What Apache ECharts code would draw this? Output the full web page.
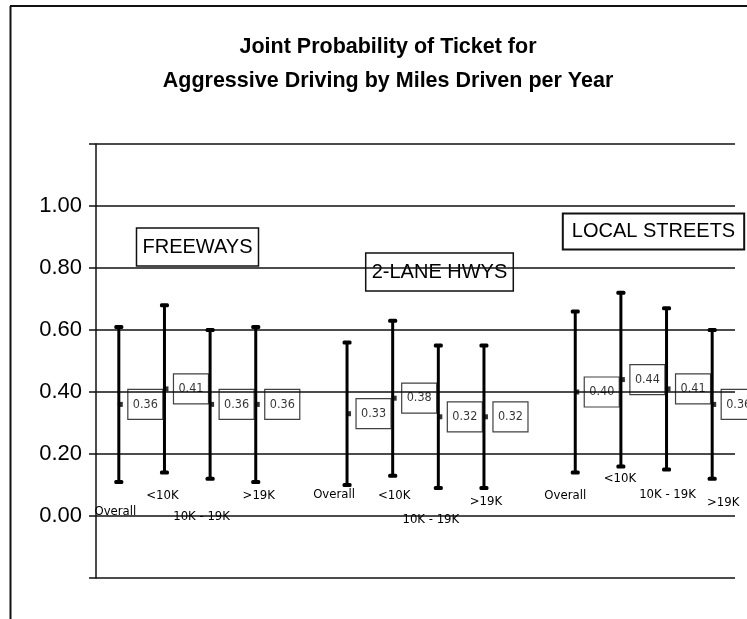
<!DOCTYPE html>
<html>
<head>
<meta charset="utf-8">
<script src="https://cdn.jsdelivr.net/npm/echarts@6/dist/echarts.min.js"></script>
<style>
  html, body { margin: 0; padding: 0; background: #ffffff; }
  #chart { width: 747px; height: 619px; }
</style>
</head>
<body>
<div id="chart"></div>
<script>
// ---- data ----
const groupNames = ['FREEWAYS', '2-LANE HWYS', 'LOCAL STREETS'];
const subCategories = ['Overall', '<10K', '10K - 19K', '>19K'];
const yTickLabels = ['0.00', '0.20', '0.40', '0.60', '0.80', '1.00'];

const freewaysMean = [0.36, 0.41, 0.36, 0.36];
const freewaysLow  = [0.11, 0.14, 0.12, 0.11];
const freewaysHigh = [0.61, 0.68, 0.60, 0.61];

const twoLaneMean = [0.33, 0.38, 0.32, 0.32];
const twoLaneLow  = [0.10, 0.13, 0.09, 0.09];
const twoLaneHigh = [0.56, 0.63, 0.55, 0.55];

const localMean = [0.40, 0.44, 0.41, 0.36];
const localLow  = [0.14, 0.16, 0.15, 0.12];
const localHigh = [0.66, 0.72, 0.67, 0.60];

// ---- styling (label nudges in px, per category label) ----
const labelDx = [-3.5, -2, -8.5, 3, -13, 1.5, -7.5, 2, -10, -1, 1, 11];
const labelDy = [16, 0, 21, 0, -1, 0, 24, 6, 0, -17, -1, 7];

const groupsMean = [freewaysMean, twoLaneMean, localMean];
const groupsLow = [freewaysLow, twoLaneLow, localLow];
const groupsHigh = [freewaysHigh, twoLaneHigh, localHigh];

// category slots: 4 per group with one empty slot between groups
const categories = [];
const catLabel = [];
const catLabelIdx = [];
groupNames.forEach((g, gi) => {
  subCategories.forEach((s, si) => {
    categories.push(g + '|' + s);
    catLabel.push(s);
    catLabelIdx.push(gi * 4 + si);
  });
  if (gi < groupNames.length - 1) {
    categories.push('gap' + gi);
    catLabel.push('');
    catLabelIdx.push(-1);
  }
});

const barData = [];
const meanData = [];
groupNames.forEach((g, gi) => {
  subCategories.forEach((s, si) => {
    const idx = categories.indexOf(g + '|' + s);
    barData.push([idx, groupsLow[gi][si], groupsHigh[gi][si]]);
    meanData.push([idx, groupsMean[gi][si]]);
  });
});

const rich = {};
categories.forEach((c, i) => {
  const li = catLabelIdx[i];
  const dx = li >= 0 ? labelDx[li] : 0;
  const dy = li >= 0 ? labelDy[li] : 0;
  rich['c' + i] = {
    fontFamily: '"DejaVu Sans Condensed", "DejaVu Sans", sans-serif',
    fontSize: 13,
    color: '#000',
    padding: [Math.max(0, 2 * dy), Math.max(0, -2 * dx), Math.max(0, -2 * dy), Math.max(0, 2 * dx)]
  };
});

const chart = echarts.init(document.getElementById('chart'), null, { renderer: 'canvas' });

const boxFont = '20px "Liberation Sans", Arial, sans-serif';

chart.setOption({
  backgroundColor: '#ffffff',
  animation: false,
  title: {
    text: 'Joint Probability of Ticket for\nAggressive Driving by Miles Driven per Year',
    left: 383,
    textAlign: 'center',
    top: 25,
    textStyle: {
      fontFamily: '"Liberation Sans", Arial, sans-serif',
      fontWeight: 'bold',
      fontSize: 21.5,
      lineHeight: 34,
      color: '#000'
    }
  },
  grid: { left: 96, right: 12, top: 144, bottom: 41 },
  xAxis: {
    type: 'category',
    data: categories,
    boundaryGap: true,
    axisLine: { show: false },
    axisTick: { show: false },
    splitLine: { show: false },
    axisLabel: {
      interval: 0,
      inside: true,
      margin: 82,
      verticalAlign: 'middle',
      hideOverlap: false,
      formatter: (v, i) => catLabel[i] ? '{c' + i + '|' + catLabel[i] + '}' : '',
      rich: rich
    }
  },
  yAxis: {
    type: 'value',
    min: -0.2,
    max: 1.2,
    interval: 0.2,
    axisLine: { show: true, lineStyle: { color: '#111', width: 1.5 } },
    axisTick: { show: true, length: 7, lineStyle: { color: '#111', width: 1.5 } },
    splitLine: { show: true, lineStyle: { color: '#111', width: 1.5 } },
    axisLabel: {
      margin: 14,
      fontFamily: '"Liberation Sans", Arial, sans-serif',
      fontSize: 22,
      color: '#000',
      formatter: (v) => {
        const s = v.toFixed(2);
        return yTickLabels.indexOf(s) >= 0 ? s : '';
      }
    }
  },
  series: [
    {
      type: 'custom',
      name: 'range',
      data: barData,
      encode: { x: 0, y: [1, 2] },
      z: 3,
      renderItem: (params, api) => {
        const lo = api.coord([api.value(0), api.value(1)]);
        const hi = api.coord([api.value(0), api.value(2)]);
        const capW = 9, capH = 4;
        return {
          type: 'group',
          children: [
            { type: 'line', shape: { x1: lo[0], y1: lo[1], x2: hi[0], y2: hi[1] },
              style: { stroke: '#000', lineWidth: 3 } },
            { type: 'rect', shape: { x: lo[0] - capW / 2, y: lo[1] - capH / 2, width: capW, height: capH, r: 1.5 },
              style: { fill: '#000' } },
            { type: 'rect', shape: { x: hi[0] - capW / 2, y: hi[1] - capH / 2, width: capW, height: capH, r: 1.5 },
              style: { fill: '#000' } }
          ]
        };
      }
    },
    {
      type: 'scatter',
      name: 'mean',
      data: meanData,
      symbol: 'rect',
      symbolSize: 5,
      symbolOffset: [1.5, 0],
      z: 4,
      itemStyle: { color: '#000' },
      label: {
        show: true,
        position: 'right',
        distance: 5,
        formatter: (p) => p.value[1].toFixed(2),
        fontFamily: '"DejaVu Sans Condensed", "DejaVu Sans", sans-serif',
        fontSize: 12.5,
        lineHeight: 14,
        color: '#000',
        borderColor: '#111',
        borderWidth: 1.2,
        padding: [8, 5, 8, 5]
      }
    }
  ],
  graphic: [
    { type: 'line', shape: { x1: 10.5, y1: 6, x2: 10.5, y2: 619 }, style: { stroke: '#111', lineWidth: 2 } },
    { type: 'line', shape: { x1: 10, y1: 6, x2: 747, y2: 6 }, style: { stroke: '#111', lineWidth: 2 } },
    { type: 'text', x: 197.5, y: 247, style: { text: groupNames[0], font: boxFont, fill: '#000', align: 'center', verticalAlign: 'middle',
        padding: [8, 6, 8, 6], borderColor: '#111', borderWidth: 1.5, lineHeight: 22 } },
    { type: 'text', x: 439.5, y: 272, style: { text: groupNames[1], font: boxFont, fill: '#000', align: 'center', verticalAlign: 'middle',
        padding: [8, 6, 8, 6], borderColor: '#111', borderWidth: 1.5, lineHeight: 22 } },
    { type: 'text', x: 653.5, y: 231.5, style: { text: groupNames[2], font: boxFont, fill: '#000', align: 'center', verticalAlign: 'middle',
        padding: [7, 9, 7, 9], borderColor: '#111', borderWidth: 2, lineHeight: 22 } }
  ]
});
</script>
</body>
</html>
